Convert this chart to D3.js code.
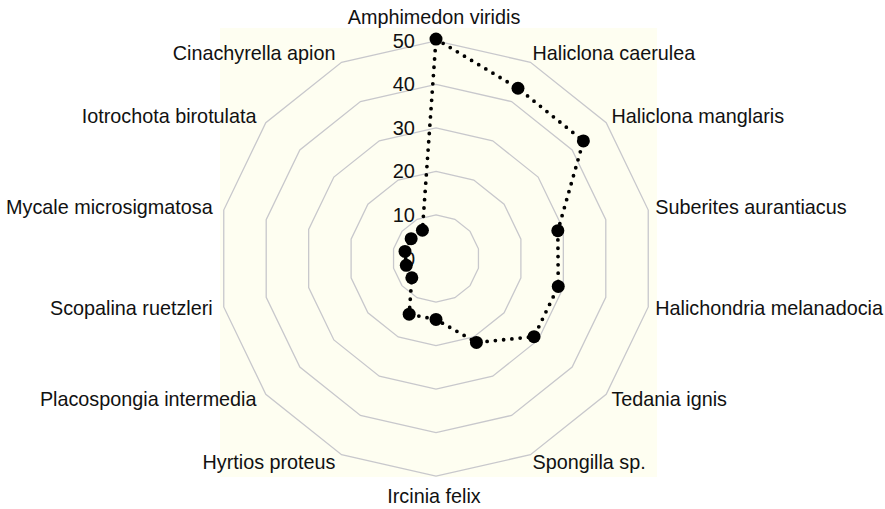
<!DOCTYPE html>
<html>
<head>
<meta charset="utf-8">
<script src="https://cdn.jsdelivr.net/npm/d3@7"></script>
<style>
  body { margin: 0; background: #fff; }
  svg text { font-family: "Liberation Sans", Arial, Helvetica, sans-serif; fill: #111; }
</style>
</head>
<body>
<div id="radar"></div>
<script>
// species, clockwise from the top
var species = [
  "Amphimedon viridis", "Haliclona caerulea", "Haliclona manglaris",
  "Suberites aurantiacus", "Halichondria melanadocia", "Tedania ignis",
  "Spongilla sp.", "Ircinia felix", "Hyrtios proteus",
  "Placospongia intermedia", "Scopalina ruetzleri", "Mycale microsigmatosa",
  "Iotrochota birotulata", "Cinachyrella apion"
];
var values = [50.4, 43.4, 43.3, 28.7, 28.8, 28.8, 21.4, 14.0, 14.2, 7.1, 7.0, 7.3, 7.3, 7.2];
var ticks = [0, 10, 20, 30, 40, 50];

var w = 885, h = 509;
var cx = 436, cy = 258.5;   // centre of the radar
var rMax = 217.7;           // radius of the 50 ring
var labelR = 227;           // where the species names sit
var labelShift = -2;        // names are centred a touch left of the rings

var svg = d3.select("#radar").append("svg")
    .attr("width", w).attr("height", h);

var n = species.length;
var ang = d3.scaleLinear().domain([0, n]).range([0, 2 * Math.PI]);
var r = d3.scaleLinear().domain([0, 50]).range([0, rMax]);

// panel background
svg.append("rect")
    .attr("x", cx - 216).attr("y", cy - 230.5)
    .attr("width", 437).attr("height", 449)
    .attr("fill", "#fefef1");

var g = svg.append("g").attr("transform", "translate(" + cx + "," + cy + ")");

// polygon grid rings
var idx = d3.range(n);
g.selectAll("path.ring")
    .data(ticks.filter(function(t){ return t > 0; }))
    .enter().append("path")
    .attr("class", "ring")
    .attr("fill", "none")
    .attr("stroke", "#c8c8cc")
    .attr("stroke-width", 1.3)
    .attr("d", function(t) {
      return d3.lineRadial()
        .angle(function(i){ return ang(i); })
        .radius(r(t))
        .curve(d3.curveLinearClosed)(idx);
    });

// radial tick labels, left of the vertical axis
g.selectAll("text.tick")
    .data(ticks).enter().append("text")
    .attr("class", "tick")
    .attr("x", -21)
    .attr("y", function(t){ return -r(t); })
    .attr("dy", "0.35em")
    .attr("text-anchor", "end")
    .attr("font-size", "20px")
    .text(function(t){ return t; });

// dotted outline
var line = d3.lineRadial()
    .angle(function(d, i){ return ang(i); })
    .radius(function(d){ return r(d); })
    .curve(d3.curveLinearClosed);

g.append("path")
    .datum(values)
    .attr("d", line)
    .attr("fill", "none")
    .attr("stroke", "#000")
    .attr("stroke-width", 3.8)
    .attr("stroke-linecap", "round")
    .attr("stroke-dasharray", "0,8.3");

// points
g.selectAll("circle.pt")
    .data(values).enter().append("circle")
    .attr("class", "pt")
    .attr("cx", function(d, i){ return r(d) * Math.sin(ang(i)); })
    .attr("cy", function(d, i){ return -r(d) * Math.cos(ang(i)); })
    .attr("r", 6.5)
    .attr("fill", "#000");

// species names
g.selectAll("text.lab")
    .data(species).enter().append("text")
    .attr("class", "lab")
    .attr("font-size", "19.8px")
    .attr("x", function(d, i){ return labelShift + labelR * Math.sin(ang(i)); })
    .attr("y", function(d, i){
      var c = Math.cos(ang(i));
      var y = -labelR * c;
      if (c > 0.99) return y - 8;      // top label sits above
      if (c < -0.99) return y + 17.5;  // bottom label hangs below
      return y + 6;
    })
    .attr("text-anchor", function(d, i){
      var s = Math.sin(ang(i));
      return s > 0.1 ? "start" : (s < -0.1 ? "end" : "middle");
    })
    .text(function(d){ return d; });
</script>
</body>
</html>
